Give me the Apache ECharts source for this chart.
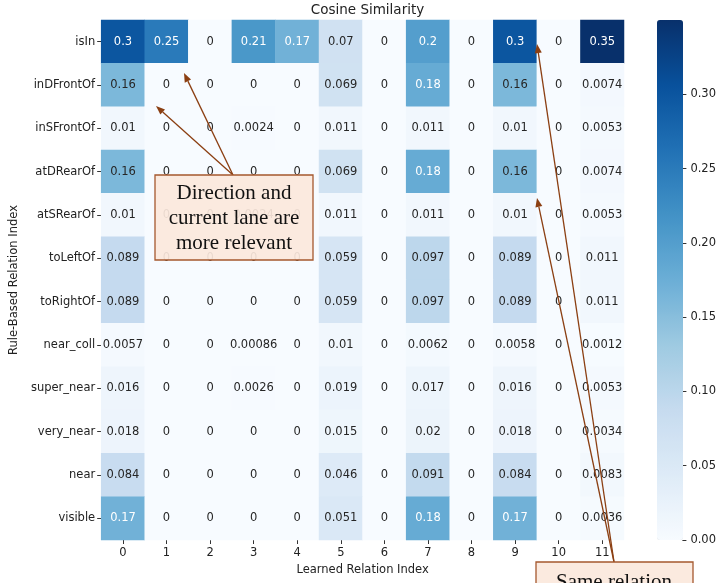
<!DOCTYPE html>
<html>
<head>
<meta charset="utf-8">
<script src="https://cdn.jsdelivr.net/npm/echarts@6/dist/echarts.min.js"></script>
<style>
  html, body { margin: 0; padding: 0; background: #fff; }
  #chart { width: 719px; height: 583px; }
</style>
</head>
<body>
<div id="chart"></div>
<script>
// Learned relation indices (columns) and rule-based relations (rows)
const learnedIdx = ['0', '1', '2', '3', '4', '5', '6', '7', '8', '9', '10', '11'];
const ruleRelations = ['isIn', 'inDFrontOf', 'inSFrontOf', 'atDRearOf', 'atSRearOf',
  'toLeftOf', 'toRightOf', 'near_coll', 'super_near', 'very_near', 'near', 'visible'];

// Cosine similarity, one array per rule-based relation
const isIn       = [0.3, 0.25, 0, 0.21, 0.17, 0.07, 0, 0.2, 0, 0.3, 0, 0.35];
const inDFrontOf = [0.16, 0, 0, 0, 0, 0.069, 0, 0.18, 0, 0.16, 0, 0.0074];
const inSFrontOf = [0.01, 0, 0, 0.0024, 0, 0.011, 0, 0.011, 0, 0.01, 0, 0.0053];
const atDRearOf  = [0.16, 0, 0, 0, 0, 0.069, 0, 0.18, 0, 0.16, 0, 0.0074];
const atSRearOf  = [0.01, 0, 0, 0.0024, 0, 0.011, 0, 0.011, 0, 0.01, 0, 0.0053];
const toLeftOf   = [0.089, 0, 0, 0, 0, 0.059, 0, 0.097, 0, 0.089, 0, 0.011];
const toRightOf  = [0.089, 0, 0, 0, 0, 0.059, 0, 0.097, 0, 0.089, 0, 0.011];
const nearColl   = [0.0057, 0, 0, 0.00086, 0, 0.01, 0, 0.0062, 0, 0.0058, 0, 0.0012];
const superNear  = [0.016, 0, 0, 0.0026, 0, 0.019, 0, 0.017, 0, 0.016, 0, 0.0053];
const veryNear   = [0.018, 0, 0, 0, 0, 0.015, 0, 0.02, 0, 0.018, 0, 0.0034];
const near       = [0.084, 0, 0, 0, 0, 0.046, 0, 0.091, 0, 0.084, 0, 0.0083];
const visible    = [0.17, 0, 0, 0, 0, 0.051, 0, 0.18, 0, 0.17, 0, 0.0036];

const colorbarTicks = [0, 0.05, 0.10, 0.15, 0.20, 0.25, 0.30];

const rows = [isIn, inDFrontOf, inSFrontOf, atDRearOf, atSRearOf, toLeftOf,
  toRightOf, nearColl, superNear, veryNear, near, visible];

// Matplotlib "Blues" colour ramp
const blues = ['#f7fbff', '#deebf7', '#c6dbef', '#9ecae1', '#6baed6',
  '#4292c6', '#2171b5', '#08519c', '#08306b'];
const vMax = 0.35;

const FONT = 'DejaVu Sans';
const SERIF = 'Liberation Serif';

const cells = [];
rows.forEach((vals, r) => {
  vals.forEach((v, c) => {
    cells.push({
      value: [c, r, v],
      label: { color: v > 0.165 ? '#ffffff' : '#262626' }
    });
  });
});

// Plot geometry
const G = { left: 101, top: 20, width: 523, height: 520 };
const CB = { left: 657, top: 20, width: 26, height: 520 };
const cbTickTop = CB.top + CB.height * (1 - colorbarTicks[colorbarTicks.length - 1] / vMax);

function arrow(x1, y1, x2, y2, color) {
  const dx = x2 - x1, dy = y2 - y1;
  const len = Math.sqrt(dx * dx + dy * dy);
  const ux = dx / len, uy = dy / len;
  const hl = 9, hw = 3.5;
  const bx = x2 - ux * hl, by = y2 - uy * hl;
  return [
    { type: 'line', z: 100, shape: { x1: x1, y1: y1, x2: bx, y2: by },
      style: { stroke: color, lineWidth: 1.3 } },
    { type: 'polygon', z: 100, shape: { points: [[x2, y2],
        [bx - uy * hw, by + ux * hw], [bx + uy * hw, by - ux * hw]] },
      style: { fill: color } }
  ];
}

const arrowColor = '#8b3f12';
const boxFill = 'rgba(251, 232, 220, 0.92)';
const boxStroke = '#a5582e';

const graphics = [].concat(
  arrow(233, 175, 184, 73, arrowColor),
  arrow(233, 175, 156, 106, arrowColor),
  arrow(614, 562, 537, 44, arrowColor),
  arrow(614, 562, 537, 198, arrowColor),
  [
    { type: 'rect', z: 101, shape: { x: 155, y: 175, width: 158, height: 85 },
      style: { fill: boxFill, stroke: boxStroke, lineWidth: 1.3 } },
    { type: 'text', z: 102, x: 234, y: 218,
      style: { text: 'Direction and\ncurrent lane are\nmore relevant', font: '21px "' + SERIF + '"',
        fill: '#111', align: 'center', verticalAlign: 'middle', lineHeight: 25 } },
    { type: 'rect', z: 101, shape: { x: 536, y: 562, width: 157, height: 60 },
      style: { fill: boxFill, stroke: boxStroke, lineWidth: 1.3 } },
    { type: 'text', z: 102, x: 614, y: 572,
      style: { text: 'Same relation', font: '21px "' + SERIF + '"',
        fill: '#111', align: 'center', verticalAlign: 'top' } }
  ]
);

const chart = echarts.init(document.getElementById('chart'), null, { renderer: 'canvas' });
chart.setOption({
  animation: false,
  backgroundColor: '#ffffff',
  textStyle: { fontFamily: FONT },
  title: {
    text: 'Cosine Similarity', left: G.left + G.width / 2, top: -2, textAlign: 'center',
    textStyle: { fontFamily: FONT, fontSize: 13.5, fontWeight: 'normal', color: '#222' }
  },
  grid: [
    { left: G.left, top: G.top, width: G.width, height: G.height },
    { left: CB.left, top: cbTickTop, width: CB.width, height: CB.top + CB.height - cbTickTop }
  ],
  xAxis: [
    {
      type: 'category', data: learnedIdx, gridIndex: 0, position: 'bottom',
      name: 'Learned Relation Index', nameLocation: 'middle', nameGap: 24,
      nameTextStyle: { fontFamily: FONT, fontSize: 11.5, color: '#222' },
      axisLine: { show: false },
      axisTick: { show: true, alignWithLabel: true, length: 4, lineStyle: { color: '#333' } },
      axisLabel: { fontFamily: FONT, fontSize: 11.5, color: '#222', margin: 7 },
      splitLine: { show: false }
    },
    { type: 'value', gridIndex: 1, show: false }
  ],
  yAxis: [
    {
      type: 'category', data: ruleRelations, gridIndex: 0, inverse: true,
      name: 'Rule-Based Relation Index', nameLocation: 'middle', nameGap: 77, nameRotate: 90,
      nameTextStyle: { fontFamily: FONT, fontSize: 11.5, color: '#222' },
      axisLine: { show: false },
      axisTick: { show: true, alignWithLabel: true, length: 4, lineStyle: { color: '#333' } },
      axisLabel: { fontFamily: FONT, fontSize: 11.5, color: '#222', margin: 6 },
      splitLine: { show: false }
    },
    {
      type: 'value', gridIndex: 1, position: 'right', min: 0,
      max: colorbarTicks[colorbarTicks.length - 1], interval: 0.05,
      axisLine: { show: true, onZero: false, lineStyle: { color: 'rgba(0,0,0,0)' } },
      axisTick: { show: true, length: 4, lineStyle: { color: '#333', width: 1 } },
      axisLabel: { fontFamily: FONT, fontSize: 11.5, color: '#222', margin: 8,
        formatter: v => v.toFixed(2) },
      splitLine: { show: false }
    }
  ],
  visualMap: {
    type: 'continuous', min: 0, max: vMax, dimension: 2, seriesIndex: 0,
    calculable: false, hoverLink: false, orient: 'vertical', left: CB.left, top: CB.top, padding: 0,
    itemWidth: CB.width, itemHeight: CB.height, text: null, showLabel: false,
    inRange: { color: blues }
  },
  series: [{
    type: 'heatmap', xAxisIndex: 0, yAxisIndex: 0, data: cells,
    label: {
      show: true, fontFamily: FONT, fontSize: 11.5,
      formatter: p => String(p.value[2])
    },
    itemStyle: { borderWidth: 0 },
    emphasis: { disabled: true }
  }],
  graphic: graphics
});
</script>
</body>
</html>
